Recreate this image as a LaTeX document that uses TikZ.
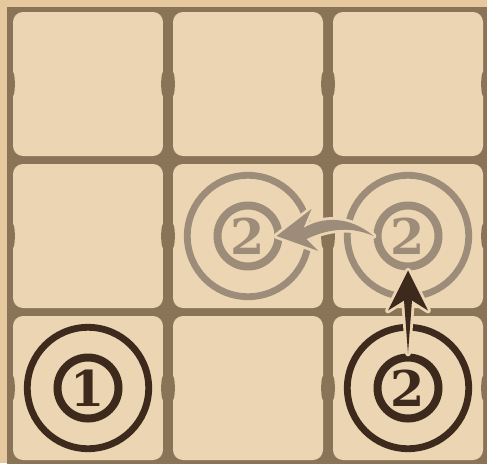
\documentclass[tikz,border=0pt]{standalone}
\usepackage{fontspec}
\newfontfamily\digitfont{DejaVu Serif}
\usetikzlibrary{calc}
\definecolor{bgtan}{HTML}{E6C89E}
\definecolor{framebrown}{HTML}{8A7458}
\definecolor{tilefill}{HTML}{ECD5B2}
\definecolor{inkdark}{HTML}{3E2A1C}
\definecolor{inkfaded}{HTML}{9C8C79}
\begin{document}
\begin{tikzpicture}[
        x=0.05cm, y=-0.05cm,
        tile/.style={fill=tilefill, rounded corners=0.5cm, minimum width=7.5cm, minimum height=7.2cm, inner sep=0pt},
        outer_ring/.style={circle, draw, line width=0.34cm, minimum size=6.07cm, inner sep=0pt},
        inner_ring/.style={circle, draw, line width=0.4cm, minimum size=3.05cm, inner sep=0pt, font=\digitfont\bfseries\fontsize{70}{70}\selectfont},
        halo/.style={preaction={draw=tilefill, line width=0.28cm, line join=round}}
    ]
        \useasboundingbox (0,0) rectangle (487,463);
        \clip (0,0) rectangle (487,463);

        % Board
        \fill[bgtan] (0,0) rectangle (487,463);
        \fill[framebrown] (7,7) rectangle (495,470);
        \foreach \r in {1,2,3} {
            \foreach \c in {1,2,3} {
                \node[tile] (t\r\c) at ({88+160*(\c-1)}, {84+152*(\r-1)}) {};
                \fill[framebrown] (t\r\c.west) ellipse [x radius=2, y radius=12];
                \fill[framebrown] (t\r\c.east) ellipse [x radius=2, y radius=12];
            }
        }

        % Tokens
        \node[outer_ring, draw=inkdark] (o31) at (t31) {};
        \node[inner_ring, draw=inkdark, text=inkdark] (n31) at (t31) {1};
        \node[outer_ring, draw=inkdark] (o33) at (t33) {};
        \node[inner_ring, draw=inkdark, text=inkdark] (n33) at (t33) {2};
        \node[outer_ring, draw=inkfaded] (o22) at (t22) {};
        \node[inner_ring, draw=inkfaded, text=inkfaded] (n22) at (t22) {2};
        \node[outer_ring, draw=inkfaded] (o23) at (t23) {};
        \node[inner_ring, draw=inkfaded, text=inkfaded] (n23) at (t23) {2};

        % Moves
        \coordinate (hop) at ([xshift=-0.3cm]n22.east);
        \fill[inkfaded, halo] (hop) -- ([shift={(35,-27)}]hop) -- ([shift={(27,-8)}]hop)
            .. controls ([shift={(45,-19)}]hop) and ([shift={(72,-21)}]hop) .. (n23.west)
            .. controls ([shift={(72,-11)}]hop) and ([shift={(49,-6)}]hop) .. ([shift={(30,3)}]hop)
            -- ([shift={(42,15)}]hop) -- cycle;
        \fill[inkdark, halo] (n23.south) -- ([shift={(-20,40)}]n23.south) -- ([shift={(-4,30)}]n23.south)
            -- (n33.north) -- ([shift={(4,30)}]n23.south) -- ([shift={(20,40)}]n23.south) -- cycle;
    \end{tikzpicture}
\end{document}
